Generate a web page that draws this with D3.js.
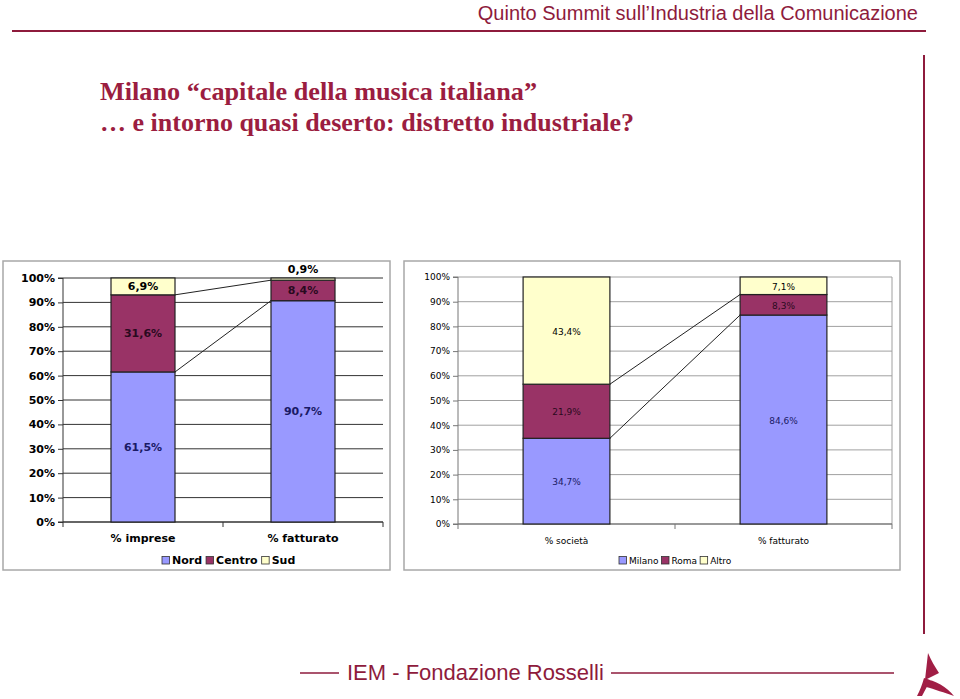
<!DOCTYPE html>
<html>
<head>
<meta charset="utf-8">
<script src="https://cdn.jsdelivr.net/npm/d3@7"></script>
<style>
  body { margin: 0; background: #fff; }
  svg { display: block; }
</style>
</head>
<body>
<script>
// data
const leftCategories = ["% imprese", "% fatturato"];
const leftSeries = ["Nord", "Centro", "Sud"];
const nordValues = [61.5, 90.7];
const centroValues = [31.6, 8.4];
const sudValues = [6.9, 0.9];

const rightCategories = ["% società", "% fatturato"];
const rightSeries = ["Milano", "Roma", "Altro"];
const milanoValues = [34.7, 84.6];
const romaValues = [21.9, 8.3];
const altroValues = [43.4, 7.1];

const percentTicks = [0, 10, 20, 30, 40, 50, 60, 70, 80, 90, 100];

const seriesColors = ["#9999FF", "#993366", "#FFFFCC"];
const labelColors = ["#1a1a66", "#2a0a20", "#000"];
const brand = "#8E1B3C";

const svg = d3.select("body").append("svg")
    .attr("width", 960)
    .attr("height", 699);

// ---- slide frame ----
svg.append("text")
    .attr("x", 918).attr("y", 20)
    .attr("text-anchor", "end")
    .attr("font-family", "Liberation Sans, Arial, sans-serif")
    .attr("font-size", 20)
    .attr("fill", brand)
    .text("Quinto Summit sull\u2019Industria della Comunicazione");

svg.append("line")
    .attr("x1", 12).attr("x2", 926).attr("y1", 31).attr("y2", 31)
    .attr("stroke", brand).attr("stroke-width", 2);

svg.append("line")
    .attr("x1", 924).attr("x2", 924).attr("y1", 55).attr("y2", 634)
    .attr("stroke", brand).attr("stroke-width", 2);

const title = svg.append("g")
    .attr("font-family", "Liberation Serif, Times New Roman, serif")
    .attr("font-size", 25)
    .attr("font-weight", "bold")
    .attr("fill", "#9B1D40");
title.append("text").attr("x", 100).attr("y", 100)
    .attr("textLength", 437).attr("lengthAdjust", "spacingAndGlyphs")
    .text("Milano \u201Ccapitale della musica italiana\u201D");
title.append("text").attr("x", 100).attr("y", 131)
    .attr("textLength", 534).attr("lengthAdjust", "spacingAndGlyphs")
    .text("\u2026 e intorno quasi deserto: distretto industriale?");

// footer
svg.append("line").attr("x1", 300).attr("x2", 339).attr("y1", 673).attr("y2", 673)
    .attr("stroke", brand).attr("stroke-width", 1.5);
svg.append("line").attr("x1", 611).attr("x2", 894).attr("y1", 673).attr("y2", 673)
    .attr("stroke", brand).attr("stroke-width", 1.5);
svg.append("text")
    .attr("x", 347).attr("y", 680)
    .attr("font-family", "Liberation Sans, Arial, sans-serif")
    .attr("font-size", 22)
    .attr("fill", brand)
    .text("IEM - Fondazione Rosselli");

// little logo mark
const logo = svg.append("g").attr("fill", "#A11E45");
logo.append("path").attr("d", "M928,653 C931,660 935,667 939,673 L925,680 C926,671 927,662 928,653 Z");
logo.append("path").attr("d", "M924,678 C922,685 920,690 917,696 L922,696 C925,690 928,685 930,680 Z");
logo.append("path").attr("d", "M924,679 C935,680 947,687 954,696 C945,693 934,689 926,687 Z");

const fmt = v => d3.format(".1f")(v).replace(".", ",") + "%";

// ---- chart builder ----
function drawChart(opt) {
    // outer box
    svg.append("rect")
        .attr("x", opt.box[0]).attr("y", opt.box[1])
        .attr("width", opt.box[2]).attr("height", opt.box[3])
        .attr("fill", "#fff")
        .attr("stroke", "#a8a8a8")
        .attr("stroke-width", 1.5);

    const g = svg.append("g")
        .attr("font-family", "DejaVu Sans, Verdana, sans-serif")
        .attr("font-weight", opt.bold ? "bold" : "normal");

    const x = d3.scaleBand()
        .domain(opt.categories)
        .range([opt.left, opt.right])
        .paddingInner(0.6)
        .paddingOuter(0.3);

    const y = d3.scaleLinear()
        .domain([0, 100])
        .range([opt.bottom, opt.top]);

    // gridlines
    g.append("g")
        .selectAll("line")
        .data(percentTicks.slice(1))
        .join("line")
        .attr("x1", opt.left).attr("x2", opt.right)
        .attr("y1", d => y(d)).attr("y2", d => y(d))
        .attr("stroke", opt.gridColor)
        .attr("stroke-width", 1);

    if (opt.frame) {
        g.append("line")
            .attr("x1", opt.right).attr("x2", opt.right)
            .attr("y1", opt.top).attr("y2", opt.bottom)
            .attr("stroke", opt.gridColor);
    }

    // y axis
    const yAxis = d3.axisLeft(y)
        .tickValues(percentTicks)
        .tickFormat(d => d + "%")
        .tickSize(5)
        .tickPadding(3);
    const ya = g.append("g")
        .attr("transform", `translate(${opt.left},0)`)
        .call(yAxis);
    ya.selectAll("text")
        .attr("font-size", opt.fontSize)
        .attr("font-family", "DejaVu Sans, Verdana, sans-serif")
        .attr("fill", "#000");
    ya.selectAll("line, path").attr("stroke", opt.axisColor);
    ya.select(".domain").attr("d", `M-5,${opt.top}H0V${opt.bottom}H-5`);

    // x axis with ticks at category boundaries
    const step = x.step();
    const xa = g.append("g");
    xa.append("line")
        .attr("x1", opt.left).attr("x2", opt.right)
        .attr("y1", opt.bottom).attr("y2", opt.bottom)
        .attr("stroke", opt.axisColor).attr("stroke-width", 1.5);
    xa.selectAll("line.tk")
        .data(d3.range(opt.categories.length + 1))
        .join("line")
        .attr("class", "tk")
        .attr("x1", i => opt.left + i * step).attr("x2", i => opt.left + i * step)
        .attr("y1", opt.bottom).attr("y2", opt.bottom + 5)
        .attr("stroke", opt.axisColor);
    xa.selectAll("text")
        .data(opt.categories)
        .join("text")
        .attr("x", d => x(d) + x.bandwidth() / 2)
        .attr("y", opt.bottom + 20)
        .attr("text-anchor", "middle")
        .attr("font-size", opt.fontSize)
        .text(d => d);

    // stacked bars
    const table = opt.categories.map((c, i) => {
        const row = { cat: c };
        opt.series.forEach((s, k) => { row[s] = opt.values[k][i]; });
        return row;
    });
    const stacked = d3.stack().keys(opt.series)(table);

    // connector lines between the two bars
    const x0 = x(opt.categories[0]) + x.bandwidth();
    const x1 = x(opt.categories[1]);
    [0, 1].forEach(k => {
        g.append("line")
            .attr("x1", x0).attr("y1", y(stacked[k][0][1]))
            .attr("x2", x1).attr("y2", y(stacked[k][1][1]))
            .attr("stroke", "#222")
            .attr("stroke-width", 1);
    });

    stacked.forEach((layer, k) => {
        g.append("g")
            .selectAll("rect")
            .data(layer)
            .join("rect")
            .attr("x", d => x(d.data.cat))
            .attr("y", d => y(d[1]))
            .attr("width", x.bandwidth())
            .attr("height", d => y(d[0]) - y(d[1]))
            .attr("fill", seriesColors[k])
            .attr("stroke", "#222")
            .attr("stroke-width", 1.2);
    });

    // value labels
    stacked.forEach((layer, k) => {
        g.append("g")
            .selectAll("text")
            .data(layer)
            .join("text")
            .attr("x", d => x(d.data.cat) + x.bandwidth() / 2)
            .attr("y", d => (d[1] - d[0]) < 3 ? y(d[1]) - 5 : y((d[0] + d[1]) / 2) + 4)
            .attr("text-anchor", "middle")
            .attr("font-size", opt.fontSize)
            .attr("fill", d => (d[1] - d[0]) < 3 ? "#000" : labelColors[k])
            .text(d => fmt(d[1] - d[0]));
    });

    // legend
    const lg = g.append("g")
        .attr("transform", `translate(${opt.legendX},${opt.legendY})`);
    let off = 0;
    opt.series.forEach((s, k) => {
        lg.append("rect")
            .attr("x", off).attr("y", -7.5)
            .attr("width", 7.5).attr("height", 7.5)
            .attr("fill", seriesColors[k])
            .attr("stroke", "#333").attr("stroke-width", 0.8);
        const t = lg.append("text")
            .attr("x", off + 10).attr("y", 0)
            .attr("font-size", opt.fontSize)
            .text(s);
        off += 10 + t.node().getComputedTextLength() + opt.legendGap;
    });
}

drawChart({
    box: [3, 261, 387, 309],
    left: 63, right: 383, top: 278, bottom: 522,
    categories: leftCategories,
    series: leftSeries,
    values: [nordValues, centroValues, sudValues],
    bold: true,
    fontSize: 11,
    gridColor: "#333",
    axisColor: "#333",
    frame: false,
    legendX: 162, legendY: 564, legendGap: 4
});

drawChart({
    box: [404, 261, 496, 309],
    left: 458, right: 892, top: 277, bottom: 524,
    categories: rightCategories,
    series: rightSeries,
    values: [milanoValues, romaValues, altroValues],
    bold: false,
    fontSize: 9,
    gridColor: "#a0a0a0",
    axisColor: "#777",
    frame: true,
    legendX: 619, legendY: 564, legendGap: 3
});
</script>
</body>
</html>
